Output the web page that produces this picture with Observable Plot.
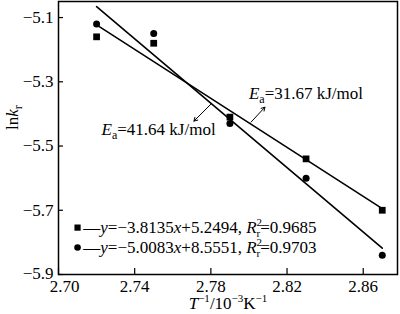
<!DOCTYPE html>
<html><head><meta charset="utf-8">
<script src="https://cdn.jsdelivr.net/npm/d3@7"></script>
<script src="https://cdn.jsdelivr.net/npm/@observablehq/plot@0.6"></script>
<style>
body{margin:0;background:#fff}
svg{display:block}
svg text{font-family:"Liberation Serif","Times New Roman",serif !important;font-size:17px}
</style>
</head><body><div id="chart"></div>
<script>
// Data
const invT = [2.72, 2.75, 2.79, 2.83, 2.87];
const lnkSquare = [-5.16, -5.18, -5.41, -5.54, -5.70];
const lnkCircle = [-5.12, -5.15, -5.43, -5.60, -5.84];
const fitX = [2.72, 2.87];
const fitSquare = [-5.123, -5.695];
const fitCircle = [-5.066, -5.818];
const xTicks = [2.70, 2.74, 2.78, 2.82, 2.86];
const yTicks = [-5.9, -5.7, -5.5, -5.3, -5.1];
const eaLabels = ["Ea=31.67 kJ/mol", "Ea=41.64 kJ/mol"];
const legendLabels = ["—y=−3.8135x+5.2494, R2r=0.9685", "—y=−5.0083x+8.5551, R2r=0.9703"];
const xLabel = "T-1/10-3K-1";
const yLabel = "lnkr";

const sq = invT.map((x, i) => ({x, y: lnkSquare[i]}));
const ci = invT.map((x, i) => ({x, y: lnkCircle[i]}));
const fs = fitX.map((x, i) => ({x, y: fitSquare[i]}));
const fc = fitX.map((x, i) => ({x, y: fitCircle[i]}));

const W = 400, H = 314, mT = 1, mB = 40, mL = 58, mR = 3;
const innerH = H - mT - mB, innerW = W - mL - mR;

const chart = Plot.plot({
  width: W, height: H,
  marginTop: mT, marginBottom: mB, marginLeft: mL, marginRight: mR,
  x: {domain: [2.70, 2.878]},
  y: {domain: [-5.9, -5.05]},
  marks: [
    Plot.axisX({ticks: xTicks, tickFormat: d3.format(".2f"), tickSize: 0, tickPadding: 5, label: null}),
    Plot.axisY({ticks: yTicks, tickFormat: d3.format(".1f"), tickSize: 0, tickPadding: 5, label: null}),
    Plot.tickX(xTicks, {x: d => d, insetTop: innerH - 6, stroke: "black", strokeWidth: 1.2}),
    Plot.tickY(yTicks, {y: d => d, insetRight: innerW - 5, stroke: "black", strokeWidth: 1.2}),
    Plot.frame({stroke: "black", strokeWidth: 1.5}),
    Plot.line(fs, {x: "x", y: "y", stroke: "black", strokeWidth: 1.6}),
    Plot.line(fc, {x: "x", y: "y", stroke: "black", strokeWidth: 1.6}),
    Plot.dot(sq, {x: "x", y: "y", symbol: "square", r: 3.8, fill: "black"}),
    Plot.dot(ci, {x: "x", y: "y", symbol: "circle", r: 3.5, fill: "black"}),
    Plot.arrow([{x1: 2.8011, y1: -5.4256, x2: 2.8084, y2: -5.379}], {x1: "x1", y1: "y1", x2: "x2", y2: "y2", stroke: "black", strokeWidth: 1, headLength: 6}),
    Plot.arrow([{x1: 2.7800, y1: -5.3698, x2: 2.7711, y2: -5.4225}], {x1: "x1", y1: "y1", x2: "x2", y2: "y2", stroke: "black", strokeWidth: 1, headLength: 6}),
    Plot.text([eaLabels[0]], {x: 2.80, y: -5.354, text: d => d, textAnchor: "start", lineAnchor: "bottom", fill: "black"}),
    Plot.text([eaLabels[1]], {x: 2.7226, y: -5.466, text: d => d, textAnchor: "start", lineAnchor: "bottom", fill: "black"}),
    Plot.dot([0], {x: 2.7100, y: -5.754, symbol: "square", r: 3.5, fill: "black"}),
    Plot.dot([0], {x: 2.7100, y: -5.816, symbol: "circle", r: 3.3, fill: "black"}),
    Plot.text([legendLabels[0]], {x: 2.7130, y: -5.754, text: d => d, textAnchor: "start", fill: "black"}),
    Plot.text([legendLabels[1]], {x: 2.7130, y: -5.816, text: d => d, textAnchor: "start", fill: "black"}),
    Plot.text([yLabel], {frameAnchor: "left", dx: -46, dy: -8, rotate: -90, text: d => d, fill: "black"}),
    Plot.text([xLabel], {frameAnchor: "bottom", dy: 34, lineAnchor: "bottom", text: d => d, fill: "black"})
  ]
});

const it = s => `<tspan font-style="italic">${s}</tspan>`;
const richMap = {};
richMap[eaLabels[0]] = `${it("E")}<tspan font-size="12" dy="4">a</tspan><tspan dy="-4">=31.67 kJ/mol</tspan>`;
richMap[eaLabels[1]] = `${it("E")}<tspan font-size="12" dy="4">a</tspan><tspan dy="-4">=41.64 kJ/mol</tspan>`;
const rLeg = (eq1, eq2, r) => `—${it("y")}=${eq1}${it("x")}+${eq2}, ${it("R")}<tspan font-size="11" dy="-7">2</tspan><tspan font-size="11" dx="-5.5" dy="11">r</tspan><tspan dy="-4">=${r}</tspan>`;
richMap[legendLabels[0]] = rLeg("−3.8135", "5.2494", "0.9685");
richMap[legendLabels[1]] = rLeg("−5.0083", "8.5551", "0.9703");
richMap[yLabel] = `ln${it("k")}<tspan font-size="12" dy="4">r</tspan>`;
richMap[xLabel] = `${it("T")}<tspan font-size="11" dy="-7">−1</tspan><tspan dy="7">/10</tspan><tspan font-size="11" dy="-7">−3</tspan><tspan dy="7">K</tspan><tspan font-size="11" dy="-7">−1</tspan>`;
chart.querySelectorAll("text").forEach(t => {
  const k = t.textContent;
  if (richMap[k] !== undefined) t.innerHTML = richMap[k];
  else if (k === "2.70") t.setAttribute("dx", "6");
  else if (k === "−5.9") t.setAttribute("dy", "-0.05em");
});
document.getElementById("chart").appendChild(chart);
</script>
</body></html>
